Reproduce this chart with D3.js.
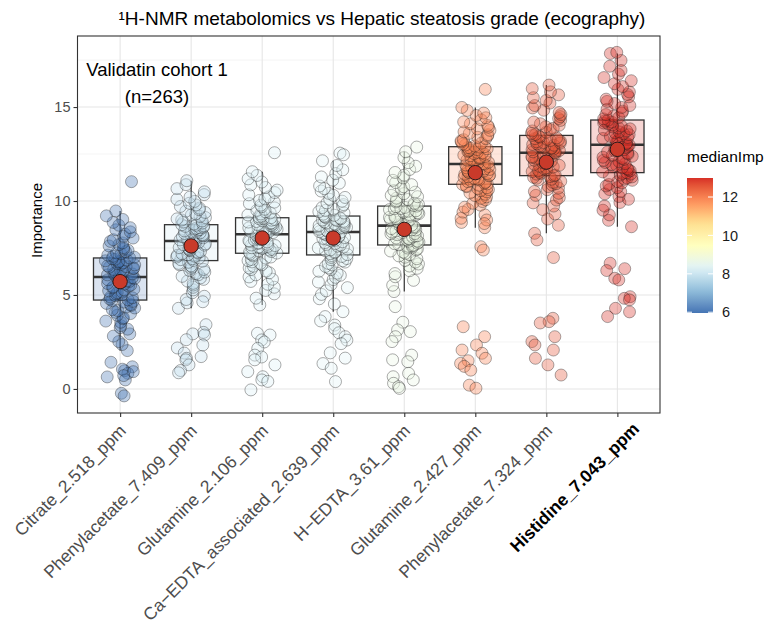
<!DOCTYPE html>
<html>
<head>
<meta charset="utf-8">
<script src="https://cdn.jsdelivr.net/npm/d3@7"></script>
<style>
  body { margin: 0; background: white; }
  svg text { font-family: "Liberation Sans", Arial, sans-serif; }
</style>
</head>
<body>
<svg class="vis-1" width="771" height="630"></svg>
<script>
// SET UP DATA
const categories = ["Citrate_2.518_ppm", "Phenylacetate_7.409_ppm", "Glutamine_2.106_ppm",
  "Ca\u2212EDTA_associated_2.639_ppm", "H\u2212EDTA_3.61_ppm", "Glutamine_2.427_ppm",
  "Phenylacetate_7.324_ppm", "Histidine_7.043_ppm"];

// box statistics
const boxQ1       = [4.73, 6.83, 7.22, 7.13, 7.66, 10.89, 11.35, 11.51];
const boxMedian   = [5.96, 7.87, 8.23, 8.35, 8.69, 11.97, 12.57, 12.99];
const boxQ3       = [6.97, 8.74, 9.11, 9.20, 9.73, 12.89, 13.49, 14.31];
const whiskerLow  = [2.04, 4.29, 4.47, 4.11, 5.18, 8.58, 8.28, 8.63];
const whiskerHigh = [9.47, 11.08, 11.56, 12.14, 12.62, 14.98, 16.17, 17.85];
const meanImp     = [5.71, 7.61, 8.03, 8.03, 8.49, 11.51, 12.07, 12.75];

const yTicks = [0, 5, 10, 15];
const legendTicks = [6, 8, 10, 12];

// importance of each validation sample (estimated)
const citrate = [2.04, 2.36, 2.52, 2.81, 2.93, 3.18, 3.26, 3.37, 3.55, 3.61, 3.74, 3.79, 3.92, 4.01, 4.08, 4.17, 4.22, 4.31, 4.36, 4.44, 4.49, 4.55, 4.62, 4.66, 4.71,
  4.74, 4.78, 4.85, 4.89, 4.96, 5.01, 5.06, 5.12, 5.15, 5.22, 5.27, 5.31, 5.38, 5.43, 5.47, 5.52, 5.58, 5.61, 5.67, 5.72, 5.75, 5.81, 5.84, 5.88, 5.92, 5.96,
  5.99, 6.03, 6.07, 6.12, 6.15, 6.19, 6.24, 6.27, 6.31, 6.36, 6.40, 6.43, 6.48, 6.51, 6.55, 6.60, 6.63, 6.67, 6.71, 6.75, 6.79, 6.82, 6.86, 6.90, 6.93, 6.97,
  7.01, 7.06, 7.12, 7.19, 7.24, 7.31, 7.38, 7.44, 7.52, 7.61, 7.68, 7.77, 7.85, 7.94, 8.03, 8.12, 8.24, 8.36, 8.47, 8.58, 8.71, 8.86, 9.02, 9.21, 9.47,
  11.03, 1.42, 1.18, 0.97, 0.83, 0.64, 0.48, 0.92, 1.05, -0.23, -0.37, 0.71];
const phenylacetate1 = [4.29, 4.58, 4.76, 4.93, 5.12, 5.27, 5.41, 5.53, 5.62, 5.74, 5.83, 5.91, 5.99, 6.08, 6.14, 6.22, 6.29, 6.36, 6.42, 6.49, 6.55, 6.61, 6.68, 6.74, 6.80,
  6.84, 6.88, 6.93, 6.97, 7.02, 7.06, 7.11, 7.14, 7.19, 7.23, 7.28, 7.31, 7.36, 7.40, 7.44, 7.49, 7.52, 7.57, 7.60, 7.65, 7.68, 7.72, 7.76, 7.80, 7.83, 7.87,
  7.90, 7.93, 7.97, 8.00, 8.04, 8.07, 8.10, 8.14, 8.17, 8.21, 8.24, 8.27, 8.31, 8.34, 8.38, 8.41, 8.44, 8.48, 8.51, 8.55, 8.58, 8.61, 8.65, 8.68, 8.71, 8.74,
  8.78, 8.83, 8.88, 8.94, 8.99, 9.05, 9.12, 9.18, 9.25, 9.31, 9.39, 9.46, 9.54, 9.62, 9.71, 9.79, 9.88, 9.98, 10.09, 10.21, 10.34, 10.49, 10.66, 10.87, 11.08,
  4.64, 3.42, 3.01, 2.93, 2.87, 2.62, 2.34, 2.18, 1.91, 1.72, 1.63, 1.55, 1.28, 0.98, 0.86];
const glutamine1 = [4.47, 4.83, 5.06, 5.24, 5.41, 5.57, 5.72, 5.84, 5.96, 6.07, 6.18, 6.27, 6.36, 6.44, 6.53, 6.61, 6.68, 6.76, 6.83, 6.89, 6.96, 7.02, 7.08, 7.14, 7.19,
  7.23, 7.27, 7.31, 7.35, 7.39, 7.43, 7.47, 7.51, 7.55, 7.59, 7.63, 7.66, 7.70, 7.74, 7.78, 7.82, 7.85, 7.89, 7.93, 7.97, 8.01, 8.05, 8.09, 8.13, 8.18, 8.22,
  8.25, 8.29, 8.32, 8.36, 8.39, 8.43, 8.46, 8.50, 8.53, 8.57, 8.60, 8.63, 8.67, 8.70, 8.74, 8.77, 8.81, 8.84, 8.88, 8.91, 8.95, 8.98, 9.02, 9.05, 9.08, 9.11,
  9.15, 9.20, 9.26, 9.31, 9.37, 9.43, 9.50, 9.56, 9.63, 9.70, 9.78, 9.86, 9.94, 10.03, 10.12, 10.22, 10.33, 10.45, 10.58, 10.72, 10.86, 11.01, 11.18, 11.36, 11.56,
  12.57, 2.96, 2.87, 2.61, 2.50, 2.16, 1.80, 1.70, 1.55, 1.28, 0.92, 0.65, 0.48, 0.40, -0.05];
const caEdta = [4.11, 4.52, 4.80, 5.03, 5.22, 5.39, 5.55, 5.69, 5.82, 5.94, 6.05, 6.16, 6.26, 6.35, 6.44, 6.52, 6.60, 6.68, 6.75, 6.82, 6.88, 6.94, 7.00, 7.05, 7.10,
  7.15, 7.20, 7.25, 7.30, 7.35, 7.40, 7.45, 7.50, 7.55, 7.60, 7.65, 7.69, 7.74, 7.79, 7.83, 7.88, 7.92, 7.97, 8.01, 8.06, 8.10, 8.15, 8.19, 8.24, 8.29, 8.34,
  8.37, 8.40, 8.44, 8.47, 8.50, 8.53, 8.57, 8.60, 8.63, 8.66, 8.70, 8.73, 8.76, 8.79, 8.83, 8.86, 8.89, 8.92, 8.96, 8.99, 9.02, 9.05, 9.09, 9.12, 9.16, 9.20,
  9.24, 9.30, 9.36, 9.43, 9.50, 9.57, 9.65, 9.73, 9.81, 9.90, 9.99, 10.09, 10.19, 10.30, 10.41, 10.53, 10.66, 10.80, 10.95, 11.11, 11.28, 11.46, 11.66, 11.89, 12.14,
  12.55, 12.46, 3.85, 3.62, 3.40, 3.21, 2.99, 2.78, 2.60, 2.41, 1.92, 1.64, 1.35, 1.10, 0.39];
const hEdta = [5.18, 5.52, 5.78, 5.97, 6.14, 6.29, 6.42, 6.54, 6.65, 6.75, 6.84, 6.93, 7.01, 7.08, 7.15, 7.22, 7.28, 7.34, 7.40, 7.45, 7.50, 7.55, 7.59, 7.62, 7.65,
  7.67, 7.73, 7.75, 7.81, 7.86, 7.87, 7.93, 7.98, 8.01, 8.03, 8.09, 8.14, 8.15, 8.21, 8.26, 8.27, 8.33, 8.35, 8.41, 8.46, 8.47, 8.53, 8.58, 8.59, 8.64, 8.68,
  8.71, 8.77, 8.79, 8.85, 8.87, 8.94, 8.97, 9.01, 9.06, 9.07, 9.13, 9.18, 9.19, 9.25, 9.27, 9.33, 9.38, 9.40, 9.46, 9.48, 9.54, 9.59, 9.60, 9.66, 9.70, 9.73,
  9.77, 9.82, 9.88, 9.95, 10.01, 10.08, 10.15, 10.23, 10.30, 10.39, 10.47, 10.56, 10.66, 10.76, 10.87, 10.98, 11.10, 11.23, 11.37, 11.52, 11.68, 11.85, 12.04, 12.31, 12.62,
  12.87, 4.38, 3.55, 3.14, 3.05, 2.78, 2.52, 1.80, 1.55, 1.45, 0.83, 0.65, 0.48, 0.30, 0.12, 0.03];
const glutamine2 = [8.58, 8.86, 9.08, 9.26, 9.41, 9.55, 9.67, 9.78, 9.88, 9.97, 10.06, 10.14, 10.22, 10.29, 10.36, 10.43, 10.49, 10.55, 10.61, 10.66, 10.71, 10.76, 10.80, 10.84, 10.88,
  10.91, 10.95, 11.00, 11.03, 11.09, 11.12, 11.17, 11.21, 11.26, 11.29, 11.34, 11.38, 11.43, 11.46, 11.51, 11.55, 11.59, 11.63, 11.68, 11.71, 11.76, 11.79, 11.84, 11.88, 11.92, 11.96,
  11.99, 12.03, 12.06, 12.11, 12.14, 12.18, 12.22, 12.25, 12.30, 12.33, 12.37, 12.41, 12.44, 12.49, 12.52, 12.56, 12.59, 12.64, 12.67, 12.71, 12.74, 12.78, 12.81, 12.84, 12.87, 12.89,
  12.93, 12.98, 13.03, 13.08, 13.14, 13.20, 13.26, 13.32, 13.39, 13.46, 13.53, 13.60, 13.68, 13.76, 13.84, 13.93, 14.02, 14.11, 14.21, 14.32, 14.43, 14.55, 14.68, 14.82, 14.98,
  15.94, 8.99, 8.80, 7.57, 7.39, 3.31, 2.78, 2.34, 2.07, 1.90, 1.63, 1.50, 1.36, 1.20, 1.00, 0.20, 0.04];
const phenylacetate2 = [8.28, 8.71, 9.04, 9.31, 9.54, 9.73, 9.90, 10.05, 10.18, 10.30, 10.41, 10.51, 10.60, 10.69, 10.77, 10.85, 10.92, 10.99, 11.05, 11.11, 11.16, 11.21, 11.26, 11.30, 11.34,
  11.38, 11.43, 11.47, 11.53, 11.57, 11.62, 11.66, 11.72, 11.76, 11.81, 11.85, 11.90, 11.95, 11.99, 12.04, 12.08, 12.13, 12.17, 12.22, 12.27, 12.31, 12.36, 12.40, 12.45, 12.50, 12.56,
  12.59, 12.62, 12.66, 12.69, 12.73, 12.76, 12.80, 12.83, 12.87, 12.90, 12.94, 12.97, 13.01, 13.04, 13.08, 13.11, 13.15, 13.18, 13.22, 13.25, 13.29, 13.32, 13.36, 13.40, 13.44, 13.49,
  13.54, 13.60, 13.66, 13.73, 13.80, 13.87, 13.95, 14.03, 14.11, 14.20, 14.29, 14.39, 14.49, 14.60, 14.71, 14.83, 14.95, 15.08, 15.21, 15.35, 15.50, 15.65, 15.81, 15.98, 16.17,
  7.93, 6.99, 3.76, 3.58, 3.51, 2.78, 2.52, 2.34, 2.07, 1.63, 1.28, 0.74];
const histidine = [8.63, 8.97, 9.26, 9.51, 9.73, 9.92, 10.09, 10.24, 10.38, 10.50, 10.61, 10.71, 10.80, 10.88, 10.96, 11.03, 11.10, 11.16, 11.22, 11.28, 11.33, 11.38, 11.43, 11.47, 11.50,
  11.55, 11.61, 11.66, 11.72, 11.77, 11.83, 11.88, 11.94, 11.99, 12.05, 12.10, 12.16, 12.21, 12.27, 12.33, 12.38, 12.44, 12.50, 12.55, 12.61, 12.67, 12.73, 12.79, 12.85, 12.91, 12.98,
  13.03, 13.08, 13.13, 13.18, 13.23, 13.28, 13.33, 13.38, 13.43, 13.48, 13.53, 13.58, 13.63, 13.68, 13.73, 13.78, 13.84, 13.89, 13.94, 13.99, 14.05, 14.10, 14.15, 14.20, 14.25, 14.30,
  14.37, 14.44, 14.52, 14.60, 14.69, 14.78, 14.88, 14.98, 15.08, 15.19, 15.30, 15.42, 15.54, 15.67, 15.80, 15.94, 16.09, 16.24, 16.40, 16.57, 16.75, 16.95, 17.17, 17.48, 17.85,
  17.91, 6.69, 6.40, 6.30, 5.89, 5.80, 4.91, 4.82, 4.74, 4.29, 4.10, 3.85];

const pointSets = [citrate, phenylacetate1, glutamine1, caEdta, hEdta, glutamine2, phenylacetate2, histidine];

// rows for the chart
const boxes = categories.map((c, i) => ({
  name: c, q1: boxQ1[i], median: boxMedian[i], q3: boxQ3[i],
  lo: whiskerLow[i], hi: whiskerHigh[i], mean: meanImp[i]
}));

const svg = d3.select("svg.vis-1");

const panel = { left: 77.5, right: 660, top: 36, bottom: 413 };

const x = d3.scalePoint()
  .domain(categories)
  .range([panel.left, panel.right])
  .padding(0.6);

const y = d3.scaleLinear()
  .domain([-1.28, 18.78])
  .range([panel.bottom, panel.top]);

// RdYlBu distiller, low = blue
const palette = ["#4575b4", "#91bfdb", "#e0f3f8", "#ffffbf", "#fee090", "#fc8d59", "#d73027"];
const medExtent = d3.extent(boxMedian);
const color = d3.scaleLinear()
  .domain(palette.map((p, i) => medExtent[0] + i * (medExtent[1] - medExtent[0]) / (palette.length - 1)))
  .range(palette)
  .interpolate(d3.interpolateLab);

// grid
const grid = svg.append("g").attr("class", "grid");
d3.range(-1, 8).map(k => k * 2.5 + 2.5).filter(v => !yTicks.includes(v) && v > -1.28 && v < 18.78)
  .forEach(v => {
    grid.append("line")
      .attr("x1", panel.left).attr("x2", panel.right)
      .attr("y1", y(v)).attr("y2", y(v))
      .attr("stroke", "#ececec").attr("stroke-width", 0.6);
  });
yTicks.forEach(v => {
  grid.append("line")
    .attr("x1", panel.left).attr("x2", panel.right)
    .attr("y1", y(v)).attr("y2", y(v))
    .attr("stroke", "#e6e6e6").attr("stroke-width", 1.1);
});
categories.forEach(c => {
  grid.append("line")
    .attr("x1", x(c)).attr("x2", x(c))
    .attr("y1", panel.top).attr("y2", panel.bottom)
    .attr("stroke", "#e6e6e6").attr("stroke-width", 1.1);
});

// boxplots
const boxW = x.step() * 0.75;
const boxG = svg.append("g").attr("class", "boxes");

boxG.selectAll(".whisker")
  .data(boxes)
  .join("line")
  .attr("class", "whisker")
  .attr("x1", d => x(d.name)).attr("x2", d => x(d.name))
  .attr("y1", d => y(d.hi)).attr("y2", d => y(d.lo))
  .attr("stroke", "#333").attr("stroke-width", 1.2);

boxG.selectAll(".box")
  .data(boxes)
  .join("rect")
  .attr("class", "box")
  .attr("x", d => x(d.name) - boxW / 2)
  .attr("width", boxW)
  .attr("y", d => y(d.q3))
  .attr("height", d => y(d.q1) - y(d.q3))
  .attr("fill", d => {
    const c = d3.color(color(d.median));
    c.opacity = 0.2;
    return c;
  })
  .attr("stroke", "#333")
  .attr("stroke-width", 1.3);

boxG.selectAll(".median")
  .data(boxes)
  .join("line")
  .attr("class", "median")
  .attr("x1", d => x(d.name) - boxW / 2).attr("x2", d => x(d.name) + boxW / 2)
  .attr("y1", d => y(d.median)).attr("y2", d => y(d.median))
  .attr("stroke", "#333").attr("stroke-width", 2.6);

// jittered points, fixed jitter so the picture is stable
function jitter(i, k) {
  const s = Math.sin((i + 1) * 12.9898 + (k + 1) * 78.233) * 43758.5453;
  return s - Math.floor(s);
}

const jitterW = x.step() * 0.21;
const pointG = svg.append("g").attr("class", "points");
pointSets.forEach((vals, k) => {
  const cat = categories[k];
  const fill = color(boxMedian[k]);
  pointG.selectAll(".pt-" + k)
    .data(vals)
    .join("circle")
    .attr("class", "pt-" + k)
    .attr("cx", (d, i) => x(cat) + (jitter(i, k) - 0.5) * 2 * jitterW)
    .attr("cy", d => y(d))
    .attr("r", 6)
    .attr("fill", fill)
    .attr("fill-opacity", 0.34)
    .attr("stroke", "#1a1a1a")
    .attr("stroke-opacity", 0.36)
    .attr("stroke-width", 1);
});

// mean dots
svg.append("g").selectAll("circle")
  .data(boxes)
  .join("circle")
  .attr("cx", d => x(d.name))
  .attr("cy", d => y(d.mean))
  .attr("r", 7.2)
  .attr("fill", "#c93a2a")
  .attr("stroke", "#2a1a1a")
  .attr("stroke-width", 1);

// panel border
svg.append("rect")
  .attr("x", panel.left).attr("y", panel.top)
  .attr("width", panel.right - panel.left)
  .attr("height", panel.bottom - panel.top)
  .attr("fill", "none")
  .attr("stroke", "#333")
  .attr("stroke-width", 1.1);

// axes
const yAxis = svg.append("g")
  .attr("transform", `translate(${panel.left},0)`)
  .call(d3.axisLeft(y).tickValues(yTicks).tickSize(4).tickPadding(3));
yAxis.select(".domain").remove();
yAxis.selectAll(".tick line").attr("stroke", "#333").attr("stroke-width", 1.1);
yAxis.selectAll(".tick text")
  .attr("fill", "#4d4d4d")
  .style("font-size", "14.5px")
  .style("font-family", "'Liberation Sans', Arial, sans-serif");

const xAxis = svg.append("g")
  .attr("transform", `translate(0,${panel.bottom})`)
  .call(d3.axisBottom(x).tickSize(4).tickFormat(""));
xAxis.select(".domain").remove();
xAxis.selectAll(".tick line").attr("stroke", "#333").attr("stroke-width", 1.1);

svg.append("g").selectAll("text")
  .data(categories)
  .join("text")
  .attr("transform", (d, i) => i === categories.length - 1
    ? `translate(${x(d) + 23},${panel.bottom + 17}) rotate(-45)`
    : `translate(${x(d) + 7},${panel.bottom + 19}) rotate(-45)`)
  .attr("text-anchor", "end")
  .attr("fill", (d, i) => i === categories.length - 1 ? "#000" : "#4d4d4d")
  .style("font-weight", (d, i) => i === categories.length - 1 ? "bold" : "normal")
  .style("font-size", "17.5px")
  .text(d => d);

// titles
svg.append("text")
  .attr("x", 382).attr("y", 25)
  .attr("text-anchor", "middle")
  .style("font-size", "19px")
  .attr("fill", "#000")
  .text("\u00b9H-NMR metabolomics vs Hepatic steatosis grade (ecography)");

svg.append("text")
  .attr("transform", `translate(42,${(panel.top + panel.bottom) / 2 - 4}) rotate(-90)`)
  .attr("text-anchor", "middle")
  .style("font-size", "15px")
  .attr("fill", "#000")
  .text("Importance");

const note = svg.append("text")
  .attr("x", 157).attr("y", 76)
  .attr("text-anchor", "middle")
  .style("font-size", "18.5px")
  .attr("fill", "#000");
note.append("tspan").attr("x", 157).text("Validatin cohort 1");
note.append("tspan").attr("x", 157).attr("dy", 27).text("(n=263)");

// legend colourbar
const barX = 687, barW = 26;
const ly = d3.scaleLinear().domain(medExtent).range([313, 178]);

const grad = svg.append("defs").append("linearGradient")
  .attr("id", "medGrad")
  .attr("x1", 0).attr("x2", 0).attr("y1", 1).attr("y2", 0);
d3.range(0, 21).forEach(s => {
  const v = medExtent[0] + s / 20 * (medExtent[1] - medExtent[0]);
  grad.append("stop").attr("offset", s / 20).attr("stop-color", color(v));
});

svg.append("rect")
  .attr("x", barX).attr("y", ly(medExtent[1]))
  .attr("width", barW)
  .attr("height", ly(medExtent[0]) - ly(medExtent[1]))
  .attr("fill", "url(#medGrad)");

const legendG = svg.append("g");
legendTicks.forEach(t => {
  legendG.append("line")
    .attr("x1", barX).attr("x2", barX + 5)
    .attr("y1", ly(t)).attr("y2", ly(t))
    .attr("stroke", "white").attr("stroke-width", 1);
  legendG.append("line")
    .attr("x1", barX + barW - 5).attr("x2", barX + barW)
    .attr("y1", ly(t)).attr("y2", ly(t))
    .attr("stroke", "white").attr("stroke-width", 1);
  legendG.append("text")
    .attr("x", barX + barW + 9)
    .attr("y", ly(t))
    .attr("dy", "0.36em")
    .style("font-size", "14.5px")
    .attr("fill", "#1a1a1a")
    .text(t);
});

svg.append("text")
  .attr("x", 687).attr("y", 162)
  .style("font-size", "15.5px")
  .attr("fill", "#000")
  .text("medianImp");
</script>
</body>
</html>
